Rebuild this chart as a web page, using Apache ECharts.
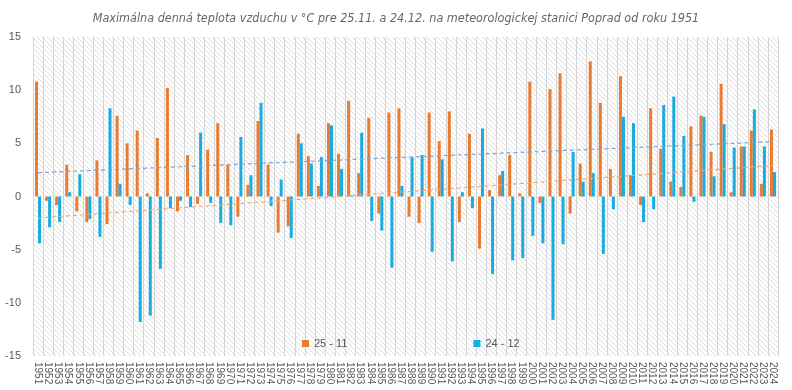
<!DOCTYPE html>
<html><head><meta charset="utf-8">
<script src="https://cdn.jsdelivr.net/npm/echarts@6/dist/echarts.min.js"></script>
<style>html,body{margin:0;padding:0;background:#fff}#c{width:792px;height:390px}</style>
</head><body><div id="c"></div>
<script>
const years = ["1951","1952","1953","1954","1955","1956","1957","1958","1959","1960","1961","1962","1963","1964","1965","1966","1967","1968","1969","1970","1971","1972","1973","1974","1975","1976","1977","1978","1979","1980","1981","1982","1983","1984","1985","1986","1987","1988","1989","1990","1991","1992","1993","1994","1995","1996","1997","1998","1999","2000","2001","2002","2003","2004","2005","2006","2007","2008","2009","2010","2011","2012","2013","2014","2015","2016","2017","2018","2019","2020","2021","2022","2023","2024"];
const nov25 = [10.8,-0.4,-0.8,3.0,-1.4,-2.4,3.4,-2.6,7.6,5.0,6.2,0.3,5.5,10.2,-1.4,3.9,-0.7,4.4,6.9,3.0,-1.9,1.1,7.1,3.0,-3.4,-2.8,5.9,3.8,1.0,6.9,4.0,9.0,2.2,7.4,-1.6,7.9,8.3,-1.9,-2.5,7.9,5.2,8.0,-2.4,5.9,-4.9,0.6,2.0,3.9,0.3,10.8,-0.6,10.1,11.6,-1.6,3.1,12.7,8.8,2.6,11.3,2.0,-0.8,8.3,4.5,1.4,0.9,6.6,7.6,4.2,10.6,0.4,4.7,6.2,1.2,6.3];
const dec24 = [-4.4,-2.9,-2.4,0.4,2.1,-2.1,-3.8,8.3,1.2,-0.8,-11.8,-11.2,-6.8,-1.1,-0.4,-1.0,6.0,-0.6,-2.5,-2.7,5.6,2.0,8.8,-0.9,1.6,-3.9,5.0,3.1,3.7,6.7,2.6,0.1,6.0,-2.3,-3.2,-6.7,1.0,3.7,3.9,-5.2,3.5,-6.1,0.4,-1.1,6.4,-7.3,2.4,-6.0,-5.8,-3.7,-4.4,-11.6,-4.5,4.2,1.4,2.2,-5.4,-1.2,7.5,6.9,-2.4,-1.2,8.6,9.4,5.7,-0.5,7.5,1.9,6.8,4.6,4.7,8.2,4.7,2.3];
const yTicks = [-15,-10,-5,0,5,10,15];
const seriesNames = ["25 - 11","24 - 12"];

function trend(vals){
  const n = vals.length; let sx=0, sy=0, sxx=0, sxy=0;
  vals.forEach((v,i)=>{sx+=i;sy+=v;sxx+=i*i;sxy+=i*v;});
  const b = (n*sxy - sx*sy)/(n*sxx - sx*sx); const a = (sy - b*sx)/n;
  return vals.map((v,i)=>+(a+b*i).toFixed(3));
}

const cv = document.createElement('canvas'); cv.width = 5; cv.height = 5;
const cx = cv.getContext('2d'); cx.fillStyle = '#ffffff'; cx.fillRect(0,0,5,5);
cx.strokeStyle = '#dcdcdc'; cx.lineWidth = 1;
cx.beginPath(); cx.moveTo(-1,-1); cx.lineTo(6,6); cx.moveTo(-1,4); cx.lineTo(1,6); cx.moveTo(4,-1); cx.lineTo(6,1); cx.stroke();

const chart = echarts.init(document.getElementById('c'), null, {renderer:'canvas'});
chart.setOption({
  animation:false,
  backgroundColor:'#ffffff',
  title:{text:'Maximálna denná teplota vzduchu v °C pre 25.11. a 24.12. na meteorologickej stanici Poprad od roku 1951',
    left:'center', top:7,
    textStyle:{fontFamily:'"Liberation Sans Narrow","DejaVu Sans Condensed",sans-serif', fontStyle:'italic', fontWeight:'normal', fontSize:12.5, color:'#666666'}},
  legend:{data:seriesNames, left:302, top:338, padding:0, itemWidth:7, itemHeight:7, itemGap:126, icon:'rect',
    textStyle:{fontFamily:'"Liberation Sans", sans-serif', fontSize:11, color:'#595959'}},
  grid:{left:33, right:14, top:37, bottom:34, show:true, backgroundColor:{image:cv, repeat:'repeat'}, borderWidth:0},
  xAxis:{type:'category', data:years, boundaryGap:true,
    axisLine:{show:false, onZero:false}, axisTick:{show:false},
    axisLabel:{rotate:-90, interval:0, fontSize:10, color:'#595959', fontFamily:'"Liberation Sans", sans-serif', margin:6},
    splitLine:{show:true, interval:0, lineStyle:{color:'#d4d4d4', width:1}}},
  yAxis:{type:'value', min:yTicks[0], max:yTicks[yTicks.length-1], interval:5,
    axisLine:{show:false}, axisTick:{show:false}, splitLine:{show:false},
    axisLabel:{fontSize:11, color:'#595959', fontFamily:'"Liberation Sans", sans-serif', margin:12}},
  series:[
    {name:seriesNames[0], type:'bar', data:nov25, itemStyle:{color:'#E97C30'}, barWidth:3, barGap:'0%'},
    {name:seriesNames[1], type:'bar', data:dec24, itemStyle:{color:'#1AABE0'}, barWidth:3, barGap:'0%'},
    {name:'t1', type:'line', data:trend(nov25), symbol:'none', lineStyle:{color:'#7DA5CF', type:[4,3], width:1.2}, z:5},
    {name:'t2', type:'line', data:trend(dec24), symbol:'none', lineStyle:{color:'#F0A66E', type:[4,3], width:1.2}, z:5}
  ]
});
</script></body></html>
